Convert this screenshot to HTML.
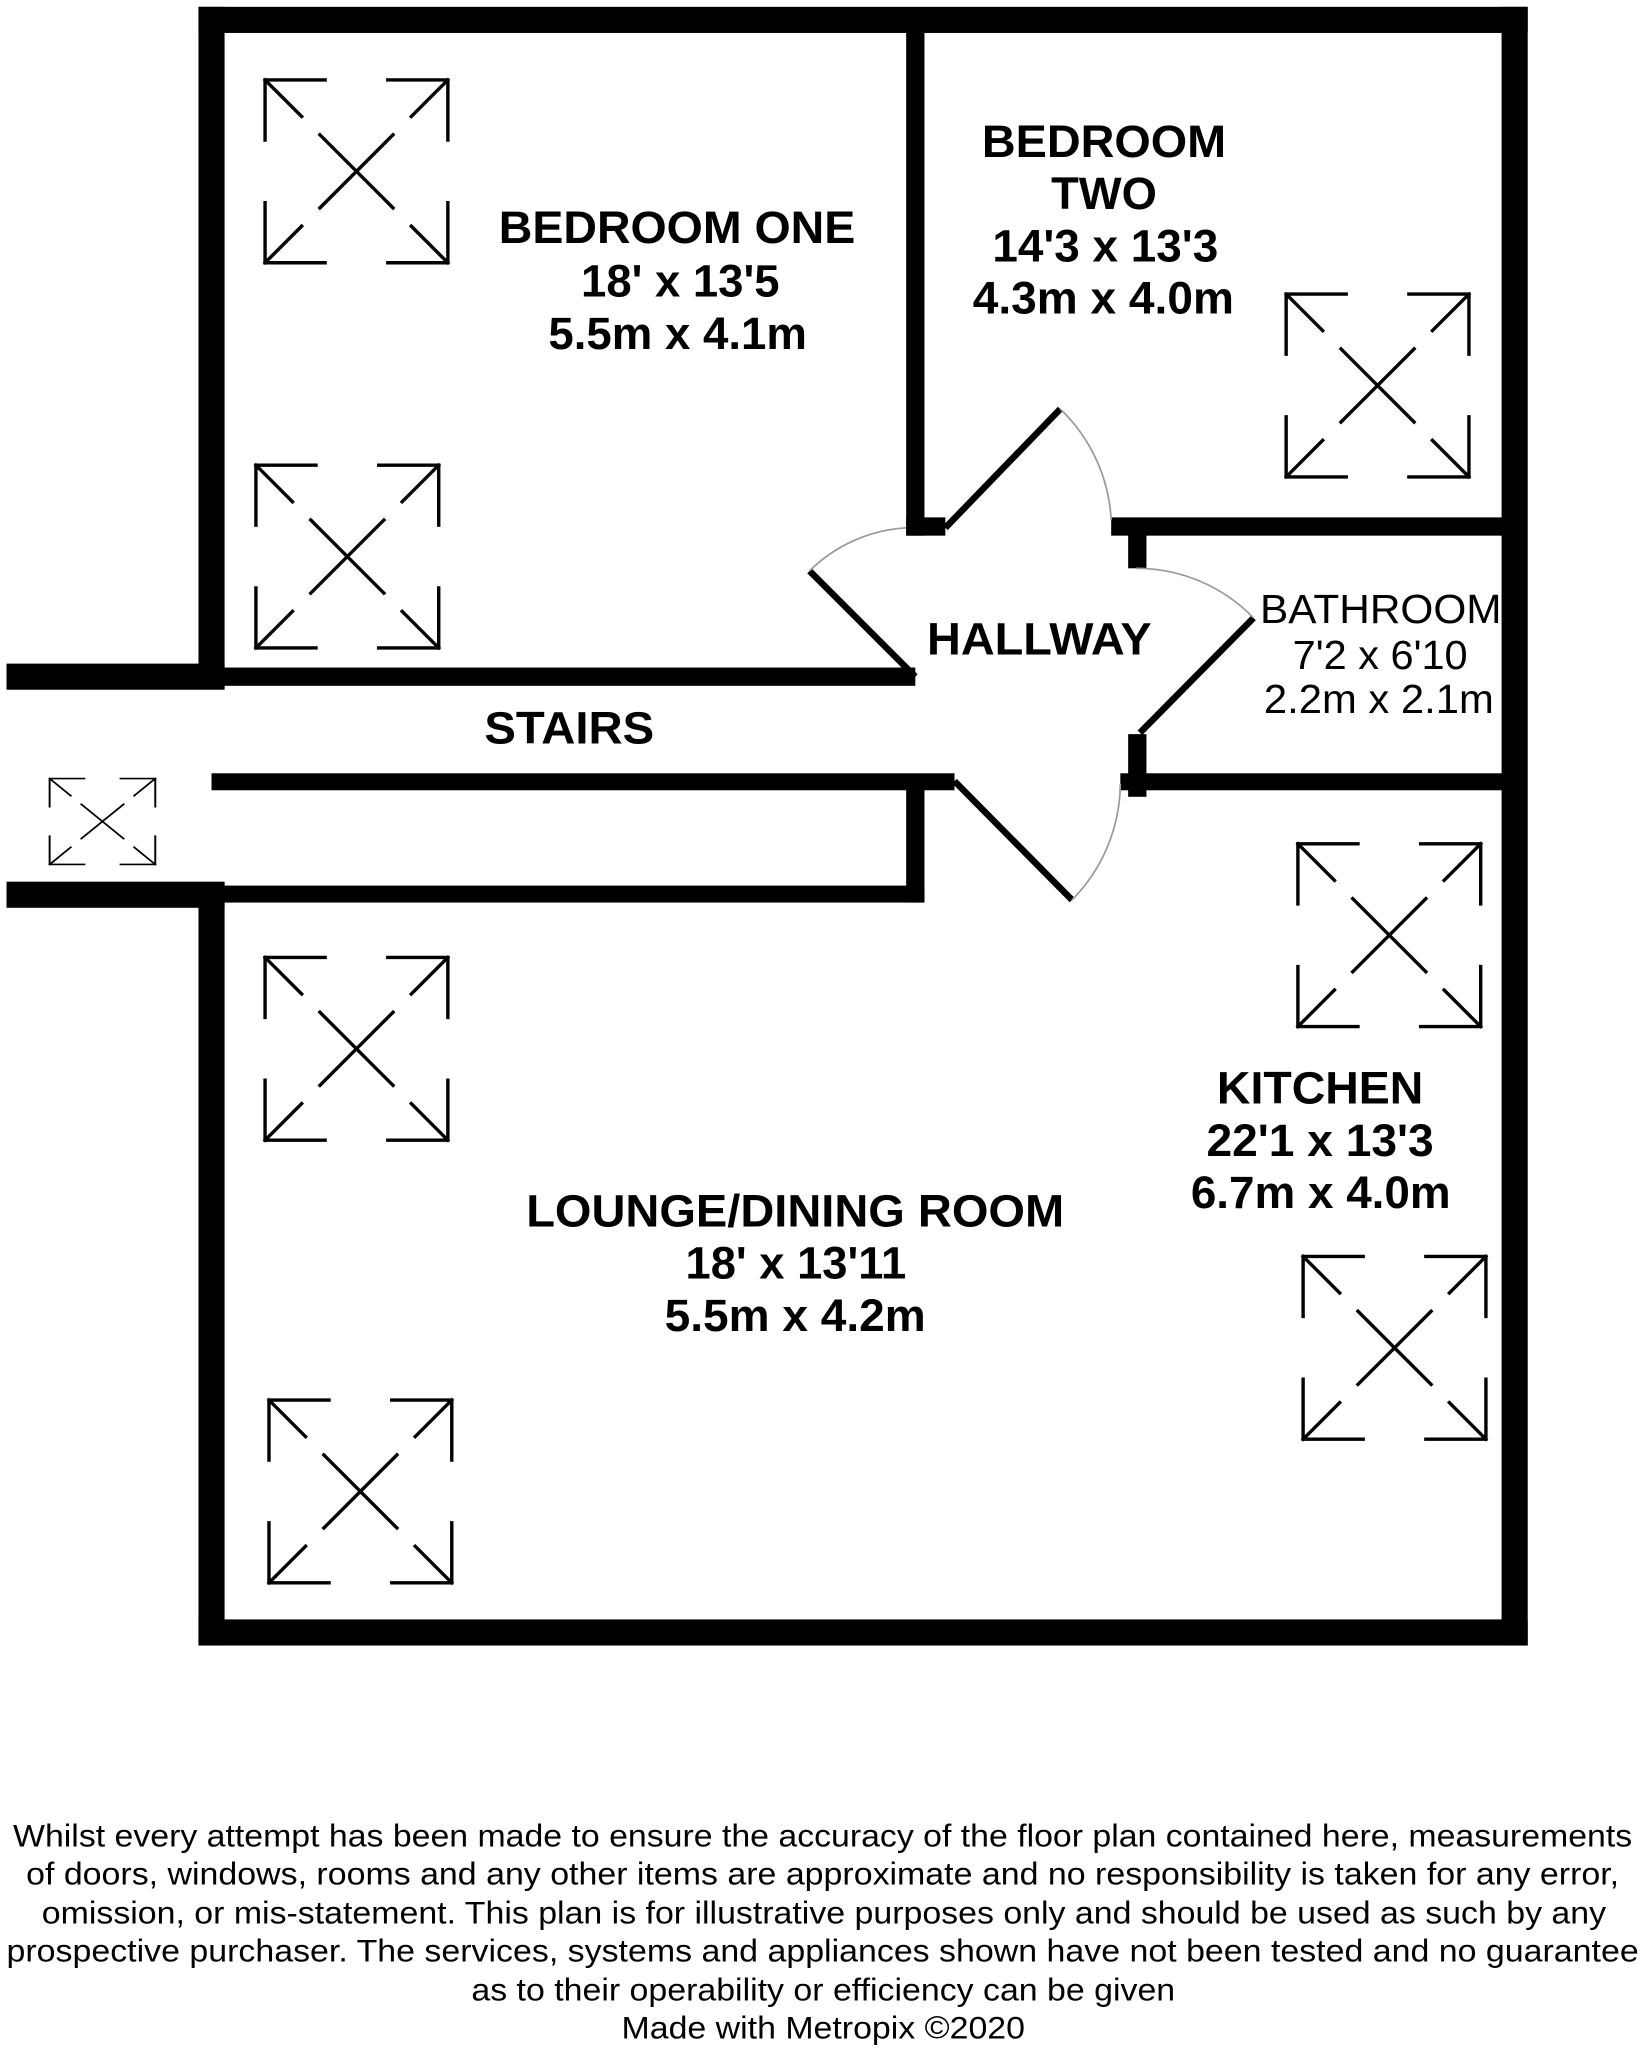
<!DOCTYPE html>
<html><head><meta charset="utf-8"><style>
html,body{margin:0;padding:0;background:#fff;}
svg{display:block;}
text{font-family:"Liberation Sans",Arial,sans-serif;fill:#000;}
.b{font-weight:bold;font-size:35px;}
.f{font-size:24px;}
</style></head><body>
<svg width="1640" height="2048" viewBox="0 0 1256 1568" xmlns="http://www.w3.org/2000/svg">
<defs>
<g id="w">
 <g stroke="#000" stroke-width="2.6" fill="none" stroke-linecap="square">
  <polyline points="0,46 0,0 46,0"/><line x1="0" y1="0" x2="28" y2="28"/>
  <polyline points="94,0 140,0 140,46"/><line x1="140" y1="0" x2="112" y2="28"/>
  <polyline points="0,94 0,140 46,140"/><line x1="0" y1="140" x2="28" y2="112"/>
  <polyline points="94,140 140,140 140,94"/><line x1="140" y1="140" x2="112" y2="112"/>
  <line x1="42" y1="42" x2="98" y2="98"/><line x1="98" y1="42" x2="42" y2="98"/>
 </g>
</g>
</defs>
<g fill="#000">
 <!-- outer -->
 <rect x="152" y="5" width="1018" height="20"/>
 <rect x="1150" y="5" width="20" height="1255"/>
 <rect x="152" y="1240" width="1018" height="20"/>
 <rect x="152" y="5" width="20" height="522"/>
 <rect x="152" y="676" width="20" height="584"/>
 <rect x="5" y="508" width="167" height="20"/>
 <rect x="5" y="675" width="167" height="20"/>
 <!-- bedroom one bottom -->
 <rect x="160" y="511" width="541" height="14"/>
 <!-- stairs lower -->
 <rect x="162" y="592" width="569" height="13"/>
 <rect x="694" y="598" width="14" height="93"/>
 <rect x="160" y="678" width="548" height="13"/>
 <!-- divider bedrooms -->
 <rect x="694" y="20" width="14" height="390"/>
 <rect x="694" y="396" width="30" height="14"/>
 <!-- bedroom two bottom -->
 <rect x="851" y="396" width="305" height="14"/>
 <rect x="864" y="400" width="14" height="35"/>
 <!-- bathroom bottom -->
 <rect x="858" y="592" width="298" height="13"/>
 <rect x="864" y="562" width="14" height="48"/>
</g>
<!-- doors -->
<g stroke="#000" stroke-width="5" stroke-linecap="butt">
 <line x1="724" y1="404" x2="812" y2="313"/>
 <line x1="701" y1="518" x2="620" y2="437"/>
 <line x1="873" y1="561" x2="960" y2="473"/>
 <line x1="731" y1="598" x2="821" y2="689"/>
</g>
<g stroke="#999" stroke-width="1.3" fill="none">
 <path d="M812 313 A127 127 0 0 1 851 398"/>
 <path d="M620 437 A115 115 0 0 1 694 404"/>
 <path d="M960 473 A125 125 0 0 0 870 435"/>
 <path d="M821 689 A128 128 0 0 0 858 600"/>
</g>
<!-- windows -->
<use href="#w" x="203" y="61"/>
<use href="#w" x="196" y="356"/>
<use href="#w" x="985" y="225"/>
<use href="#w" x="203" y="733"/>
<use href="#w" x="206" y="1072"/>
<use href="#w" x="994" y="646"/>
<use href="#w" x="998" y="962"/>
<use href="#w" transform="translate(38,596) scale(0.578,0.47)"/>
<!-- labels -->
<text class="b" x="382" y="186" textLength="273" lengthAdjust="spacingAndGlyphs">BEDROOM ONE</text>
<text class="b" x="445" y="227" textLength="152" lengthAdjust="spacingAndGlyphs">18' x 13'5</text>
<text class="b" x="420" y="267" textLength="198" lengthAdjust="spacingAndGlyphs">5.5m x 4.1m</text>
<text class="b" x="752" y="120" textLength="187" lengthAdjust="spacingAndGlyphs">BEDROOM</text>
<text class="b" x="805" y="160" textLength="81" lengthAdjust="spacingAndGlyphs">TWO</text>
<text class="b" x="760" y="200" textLength="173" lengthAdjust="spacingAndGlyphs">14'3 x 13'3</text>
<text class="b" x="745" y="240" textLength="200" lengthAdjust="spacingAndGlyphs">4.3m x 4.0m</text>
<text class="b" x="710" y="501" textLength="172" lengthAdjust="spacingAndGlyphs">HALLWAY</text>
<text x="965" y="477" font-size="31" textLength="185" lengthAdjust="spacingAndGlyphs">BATHROOM</text>
<text x="990" y="512" font-size="31" textLength="134" lengthAdjust="spacingAndGlyphs">7'2 x 6'10</text>
<text x="968" y="546" font-size="31" textLength="176" lengthAdjust="spacingAndGlyphs">2.2m x 2.1m</text>
<text class="b" x="371" y="569" textLength="130" lengthAdjust="spacingAndGlyphs">STAIRS</text>
<text class="b" x="932" y="845" textLength="158" lengthAdjust="spacingAndGlyphs">KITCHEN</text>
<text class="b" x="924" y="885" textLength="174" lengthAdjust="spacingAndGlyphs">22'1 x 13'3</text>
<text class="b" x="912" y="925" textLength="199" lengthAdjust="spacingAndGlyphs">6.7m x 4.0m</text>
<text class="b" x="403" y="939" textLength="412" lengthAdjust="spacingAndGlyphs">LOUNGE/DINING ROOM</text>
<text class="b" x="525" y="979" textLength="169" lengthAdjust="spacingAndGlyphs">18' x 13'11</text>
<text class="b" x="509" y="1019" textLength="200" lengthAdjust="spacingAndGlyphs">5.5m x 4.2m</text>
<!-- footer -->
<text class="f" x="10" y="1414" textLength="1240" lengthAdjust="spacingAndGlyphs">Whilst every attempt has been made to ensure the accuracy of the floor plan contained here, measurements</text>
<text class="f" x="20" y="1443" textLength="1220" lengthAdjust="spacingAndGlyphs">of doors, windows, rooms and any other items are approximate and no responsibility is taken for any error,</text>
<text class="f" x="32" y="1473" textLength="1198" lengthAdjust="spacingAndGlyphs">omission, or mis-statement. This plan is for illustrative purposes only and should be used as such by any</text>
<text class="f" x="5" y="1502" textLength="1250" lengthAdjust="spacingAndGlyphs">prospective purchaser. The services, systems and appliances shown have not been tested and no guarantee</text>
<text class="f" x="361" y="1532" textLength="539" lengthAdjust="spacingAndGlyphs">as to their operability or efficiency can be given</text>
<text class="f" x="476" y="1561" textLength="309" lengthAdjust="spacingAndGlyphs">Made with Metropix ©2020</text>
</svg>
</body></html>
